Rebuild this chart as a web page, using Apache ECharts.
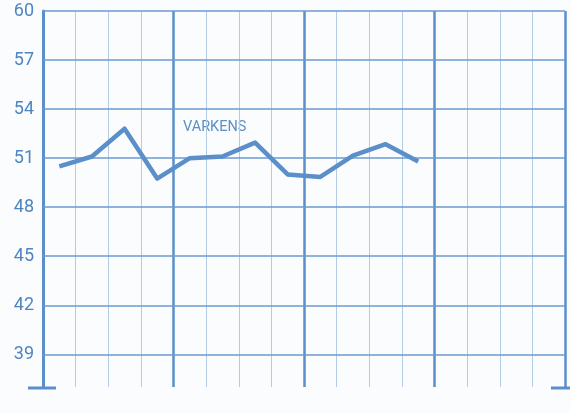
<!DOCTYPE html>
<html><head><meta charset="utf-8">
<script src="https://cdn.jsdelivr.net/npm/echarts@6/dist/echarts.min.js"></script>
<style>html,body{margin:0;padding:0;background:#fbfcfd}#c{width:570px;height:413px}</style>
</head><body><div id="c"></div>
<script>
var quarters = ['1','2','3','4','5','6','7','8','9','10','11','12','13','14','15','16'];
var years = ['A','B','C','D'];
var varkens = [50.5, 51.1, 52.8, 49.75, 51.0, 51.1, 51.95, 50.0, 49.85, 51.15, 51.85, 50.8];
var yTicks = [39, 42, 45, 48, 51, 54, 57, 60];
var seriesName = 'VARKENS';

var blue = '#5a8fca';
var chart = echarts.init(document.getElementById('c'));
chart.setOption({
  backgroundColor: '#fbfcfd',
  animation: false,
  grid: { left: 43, right: 5, top: 11, bottom: 26 },
  xAxis: [
    { type: 'category', data: quarters, boundaryGap: true,
      axisLine: { show: false }, axisTick: { show: false }, axisLabel: { show: false },
      splitLine: { show: true, interval: 0, lineStyle: { color: '#b3cbe5', width: 1 } } },
    { type: 'category', data: years, boundaryGap: true, position: 'bottom',
      axisLine: { show: false }, axisTick: { show: false }, axisLabel: { show: false },
      splitLine: { show: true, interval: 0, lineStyle: { color: blue, width: 2.5 } } }
  ],
  yAxis: {
    type: 'value', min: 37, max: 60, interval: 1,
    axisLine: { show: true, lineStyle: { color: blue, width: 3 } },
    axisTick: { show: false },
    splitLine: { show: false },
    axisLabel: {
      margin: 9, color: '#4f85c0', fontSize: 18, fontFamily: 'Roboto',
      formatter: function (v) { return yTicks.indexOf(v) >= 0 ? String(v) : ''; }
    }
  },
  series: [{
    name: seriesName, type: 'line', xAxisIndex: 0, data: varkens,
    showSymbol: false, symbol: 'none',
    lineStyle: { color: blue, width: 4.5, join: 'round' },
    markLine: {
      silent: true, symbol: 'none', label: { show: false },
      lineStyle: { color: '#6b9bd0', width: 1.5, type: 'solid' },
      data: yTicks.map(function (t) { return { yAxis: t }; })
    },
    z: 5
  }],
  graphic: [
    { type: 'text', left: 183, top: 120,
      style: { text: seriesName, fill: '#5b8fc7', fontSize: 14.5, fontFamily: 'Roboto' } },
    { type: 'line', shape: { x1: 28, y1: 388, x2: 56, y2: 388 },
      style: { stroke: blue, lineWidth: 3 } },
    { type: 'line', shape: { x1: 551, y1: 388, x2: 570, y2: 388 },
      style: { stroke: blue, lineWidth: 3 } }
  ]
});
</script></body></html>
